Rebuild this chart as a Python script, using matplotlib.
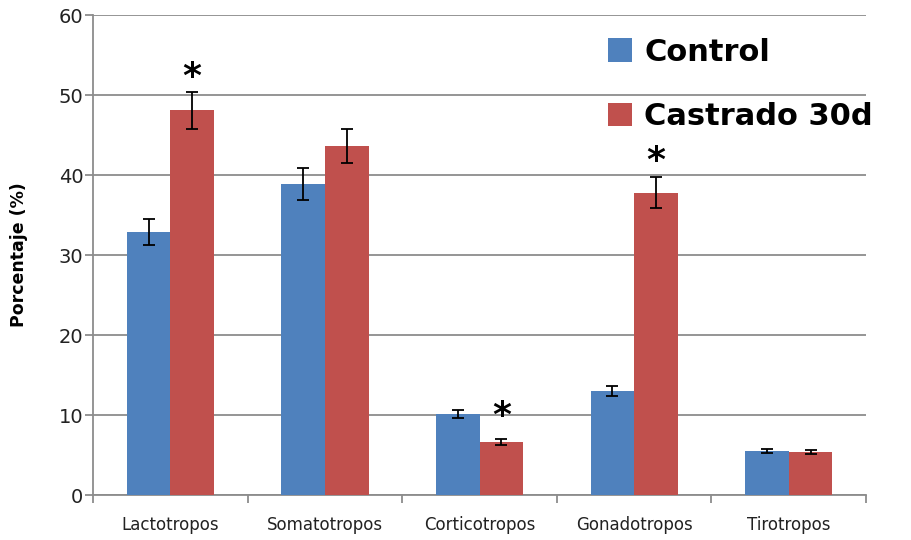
import numpy as np
import matplotlib.pyplot as plt

categories = ['Lactotropos', 'Somatotropos', 'Corticotropos', 'Gonadotropos', 'Tirotropos']
control = [32.9, 38.9, 10.1, 13.0, 5.5]
control_err = [1.6, 2.0, 0.5, 0.65, 0.25]
castrado = [48.1, 43.6, 6.6, 37.8, 5.4]
castrado_err = [2.3, 2.1, 0.35, 1.9, 0.25]
labels = ['Control', 'Castrado 30d']

# significance marks: (category index, height)
stars = [(0, 52.3), (2, 9.9), (3, 41.7)]

blue = '#4F81BD'
red = '#C0504D'
grid_color = '#8C8C8C'
width = 0.282

fig = plt.figure(figsize=(9.12, 5.40), dpi=100)
ax = fig.add_axes([0.102, 0.0833, 0.8476, 0.8889])

x = np.arange(len(categories))
err_kw = dict(ecolor='black', elinewidth=1.3, capsize=4.5, capthick=1.3)
ax.bar(x - width / 2, control, width, yerr=control_err, color=blue,
       label=labels[0], error_kw=err_kw, zorder=3)
ax.bar(x + width / 2, castrado, width, yerr=castrado_err, color=red,
       label=labels[1], error_kw=err_kw, zorder=3)

for i, h in stars:
    ax.text(i + width / 2, h, '*', ha='center', va='center',
            fontsize=26, fontweight='bold', zorder=4)

ax.set_xlim(-0.5, len(categories) - 0.5)
ax.set_ylim(0, 60)
ax.set_yticks(np.arange(0, 61, 10))
ax.set_xticks(np.arange(-0.5, len(categories)), minor=False)
ax.set_xticklabels([])
ax.set_xticks(x, minor=True)
ax.set_xticklabels(categories, minor=True)

ax.grid(axis='y', color=grid_color, linewidth=1.3, zorder=0)
for s in ['top', 'right']:
    ax.spines[s].set_visible(False)
for s in ['left', 'bottom']:
    ax.spines[s].set_color(grid_color)
    ax.spines[s].set_linewidth(1.3)

ax.tick_params(axis='y', which='major', length=6, width=1.3, color=grid_color,
               labelsize=14, labelcolor='#222222', pad=1)
ax.tick_params(axis='x', which='major', length=6, width=1.3, color=grid_color)
ax.tick_params(axis='x', which='minor', length=0, labelsize=12,
               labelcolor='#222222', pad=15)

ax.set_ylabel('Porcentaje (%)', fontsize=12.5, fontweight='bold', labelpad=22)

ax.legend(loc='upper left', bbox_to_anchor=(0.63, 1.01), frameon=False,
          prop={'size': 22, 'weight': 'bold'}, handlelength=0.8,
          handleheight=0.8, handletextpad=0.4, labelspacing=1.15)

fig.savefig('out.png', dpi=100)
